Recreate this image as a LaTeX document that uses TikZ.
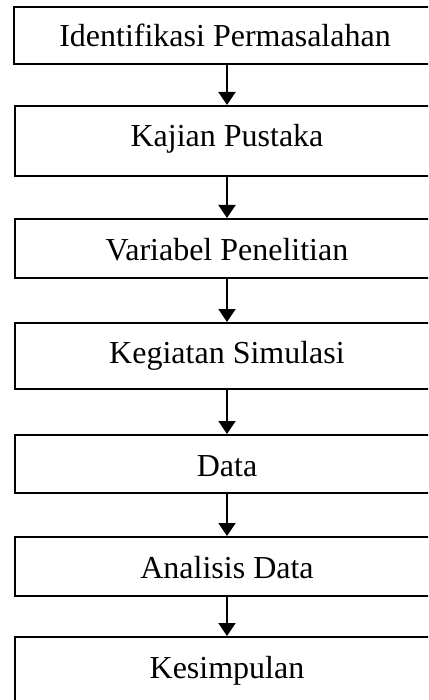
\documentclass[tikz,border=0pt]{standalone}
\usepackage{fontspec}
\setmainfont{Liberation Serif}
\usetikzlibrary{arrows.meta}
\begin{document}
\begin{tikzpicture}[x=1pt,y=-1pt,
  stepbox/.style={draw=black, line width=2pt, fill=white, minimum width=500pt, inner sep=0pt, anchor=west},
  lbl/.style={font=\fontsize{32}{38}\selectfont, inner sep=0pt, anchor=base},
  conn/.style={line width=2pt, -{Triangle[length=13pt,width=17pt]}}]
\useasboundingbox (0,0) rectangle (428,700);
\clip (0,0) rectangle (428,700);
\fill[white] (0,0) rectangle (428,700);
\coordinate (mx) at (227,0);
\node[stepbox, minimum height=57pt] (b1) at (12.5,35.5) {};
\node[stepbox, minimum height=70pt] (b2) at (13.5,141) {};
\node[stepbox, minimum height=59pt] (b3) at (13.5,248.5) {};
\node[stepbox, minimum height=66pt] (b4) at (13.5,356) {};
\node[stepbox, minimum height=58pt] (b5) at (13.5,464) {};
\node[stepbox, minimum height=59pt] (b6) at (13.5,566.5) {};
\node[stepbox, minimum height=80pt] (b7) at (13.5,677) {};
\node[lbl] (t1) at (225,47) {Identifikasi Permasalahan};
\node[lbl] (t2) at (227,147) {Kajian Pustaka};
\node[lbl] (t3) at (227,260) {Variabel Penelitian};
\node[lbl] (t4) at (227,363) {Kegiatan Simulasi};
\node[lbl] (t5) at (227,476) {Data};
\node[lbl] (t6) at (227,578) {Analisis Data};
\node[lbl] (t7) at (227,678) {Kesimpulan};
\draw[conn] (b1.south -| mx) -- (b2.north -| mx);
\draw[conn] (b2.south -| mx) -- (b3.north -| mx);
\draw[conn] (b3.south -| mx) -- (b4.north -| mx);
\draw[conn] (b4.south -| mx) -- (b5.north -| mx);
\draw[conn] (b5.south -| mx) -- (b6.north -| mx);
\draw[conn] (b6.south -| mx) -- (b7.north -| mx);
\end{tikzpicture}
\end{document}
